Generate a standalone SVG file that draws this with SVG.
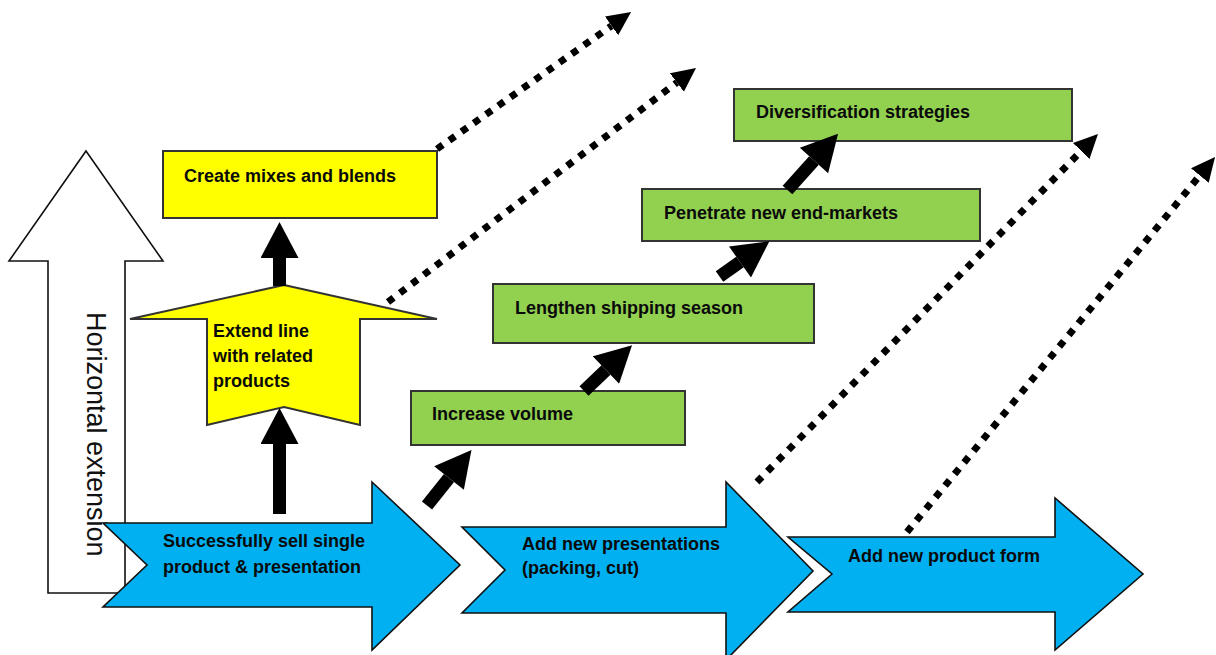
<svg xmlns="http://www.w3.org/2000/svg" width="1216" height="655" viewBox="0 0 1216 655">
<defs>
<style>
.lbl{font-family:"Liberation Sans",Arial,sans-serif;font-weight:bold;font-size:18px;fill:#0a0a0a}
.vert{font-family:"Liberation Sans",Arial,sans-serif;font-size:27px;fill:#111}
.yel{fill:#FFFF00;stroke:#333;stroke-width:2}
.grn{fill:#92D050;stroke:#333;stroke-width:2}
.blu{fill:#00B0F0;stroke:#111;stroke-width:1.6}
.wht{fill:#FFFFFF;stroke:#111;stroke-width:1.6}
.thick{stroke:#000;stroke-width:13;fill:none}
.dot{stroke:#000;stroke-width:7;fill:none;stroke-dasharray:7 8}
</style>
<marker id="bigHead" markerUnits="userSpaceOnUse" markerWidth="38" markerHeight="38" refX="0" refY="19" orient="auto" viewBox="0 0 36 38">
<path d="M0,0 L36,19 L0,38 Z" fill="#000"/>
</marker>
<marker id="dotHead" markerUnits="userSpaceOnUse" markerWidth="24" markerHeight="24" refX="0" refY="11.5" orient="auto" viewBox="0 0 24 23">
<path d="M0,0 L24,11.5 L0,23 Z" fill="#000"/>
</marker>
</defs>
<rect width="1216" height="655" fill="#fff"/>

<g id="horizontal-extension">
<polygon class="wht" points="86,151 163,261 125,261 125,593 48,593 48,261 9,261"/>
<text class="vert" transform="translate(87,312) rotate(90)" x="0" y="0">Horizontal extension</text>
</g>

<g id="create-mixes">
<rect class="yel" x="163" y="151" width="274" height="67"/>
<text class="lbl" x="184" y="182">Create mixes and blends</text>
</g>

<g id="extend-line">
<polygon class="yel" points="284,285 437,319 360,319 360,425 284,407 207,425 207,319 130,319"/>
<text class="lbl" x="213" y="337">Extend line</text>
<text class="lbl" x="213" y="362">with related</text>
<text class="lbl" x="213" y="387">products</text>
</g>

<g id="increase-volume">
<rect class="grn" x="411" y="391" width="274" height="54"/>
<text class="lbl" x="432" y="420">Increase volume</text>
</g>

<g id="lengthen-season">
<rect class="grn" x="493" y="284" width="321" height="59"/>
<text class="lbl" x="515" y="314">Lengthen shipping season</text>
</g>

<g id="penetrate-markets">
<rect class="grn" x="642" y="189" width="338" height="52"/>
<text class="lbl" x="664" y="219">Penetrate new end-markets</text>
</g>

<g id="diversification">
<rect class="grn" x="734" y="89" width="338" height="52"/>
<text class="lbl" x="756" y="118">Diversification strategies</text>
</g>

<g id="sell-single">
<polygon class="blu" points="103,523 372,523 372,482 460,565 372,650 372,607 103,607 147,565"/>
<text class="lbl" x="163" y="547">Successfully sell single</text>
<text class="lbl" x="163" y="573">product &amp; presentation</text>
</g>

<g id="new-presentations">
<polygon class="blu" points="462,527 726,527 726,482 813,571 726,660 726,613 462,613 505,570"/>
<text class="lbl" x="522" y="550">Add new presentations</text>
<text class="lbl" x="522" y="574">(packing, cut)</text>
</g>

<g id="new-product-form">
<polygon class="blu" points="788,537 1055,537 1055,498 1143,574 1055,650 1055,612 788,612 832,574"/>
<text class="lbl" x="848" y="562">Add new product form</text>
</g>

<g id="connectors">
<line class="thick" x1="279.5" y1="286" x2="279.5" y2="258" marker-end="url(#bigHead)"/>
<line class="thick" x1="279.5" y1="514" x2="279.5" y2="444" marker-end="url(#bigHead)"/>
<line class="thick" x1="427" y1="505.5" x2="449" y2="478" marker-end="url(#bigHead)"/>
<line class="thick" x1="584" y1="391" x2="606" y2="370" marker-end="url(#bigHead)"/>
<line class="thick" x1="719.5" y1="276.5" x2="740" y2="262" marker-end="url(#bigHead)"/>
<line class="thick" x1="787.5" y1="190" x2="814" y2="160.5" marker-end="url(#bigHead)"/>
<line class="dot" x1="437" y1="149" x2="611.5" y2="25.8" marker-end="url(#dotHead)"/>
<line class="dot" x1="388" y1="302" x2="676.9" y2="82.5" marker-end="url(#dotHead)"/>
<line class="dot" x1="757" y1="482" x2="1081.2" y2="151.1" marker-end="url(#dotHead)"/>
<line class="dot" x1="907" y1="532" x2="1199.8" y2="175.5" marker-end="url(#dotHead)"/>
</g>
</svg>
